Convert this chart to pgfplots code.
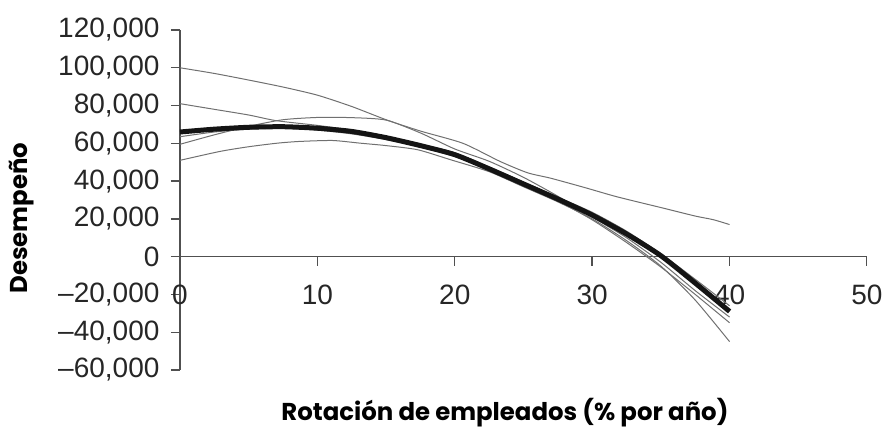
\documentclass[border=0pt]{standalone}
\usepackage{fontspec}
\setmainfont{Liberation Sans}
\newfontfamily\lblfont{Poppins}
\usepackage{pgfplots}
\pgfplotsset{compat=1.18}
\definecolor{axgray}{HTML}{505050}
\definecolor{thin}{HTML}{707070}
\begin{document}
\begin{tikzpicture}
\begin{axis}[
 scale only axis, width=343.5pt, height=170pt,
 xmin=0, xmax=50, ymin=-60000, ymax=120000,
 axis x line=middle, axis y line=left,
 axis line style={-, draw=axgray, line width=0.7pt},
 hide obscured x ticks=false,
 scaled y ticks=false, scaled x ticks=false,
 xtick={0,10,20,30,40,50}, xticklabels={0,10,20,30,40,50},
 ytick={-60000,-40000,-20000,0,20000,40000,60000,80000,100000,120000},
 yticklabels={{--60,000},{--40,000},{--20,000},0,{20,000},{40,000},{60,000},{80,000},{100,000},{120,000}},
 tick align=center, major tick length=4.5pt,
 tick style={draw=axgray, line width=0.7pt},
 xtick style={draw=none},
 ytick style={xshift=-2.25pt},
 ticklabel style={font=\fontsize{14}{16}\selectfont, text=black!85},
 xticklabel style={yshift=-8.5pt},
 yticklabel style={xshift=-4.5pt},
 every axis x label/.style={at={(axis description cs:0.473,-0.15)}, anchor=base},
 every axis y label/.style={at={(axis description cs:-0.23,0.447)}, rotate=90, anchor=center},
 xlabel={\lblfont\bfseries\fontsize{12.2}{14}\selectfont Rotación de empleados (\% por año)},
 ylabel={\lblfont\bfseries\fontsize{12.2}{14}\selectfont Desempeño},
 thinline/.style={thin, draw=thin, line width=0.5pt, smooth, tension=0.4},
 unbounded coords=jump,
]
\coordinate (ll) at (rel axis cs:0,0);
% x tick marks below the x axis line
\addplot[draw=axgray, line width=0.7pt] coordinates {(0,0) (0,-4760) (0,nan) (10,0) (10,-4760) (10,nan) (20,0) (20,-4760) (20,nan) (30,0) (30,-4760) (30,nan) (40,0) (40,-4760) (40,nan) (50,0) (50,-4760)};
\addplot[thinline] coordinates {(0,100000) (2.5,97000) (5,93500) (7.5,89800) (10,85500) (12.5,79500) (15,72500) (17.5,66500) (20.6,60000) (23.3,50400) (25.3,44400) (27,41500) (29.5,36500) (31.8,31700) (35,26000) (37.5,21500) (38.8,19600) (40,17000)};
\addplot[thinline] coordinates {(0,59500) (2.5,64500) (5,69000) (7.5,72500) (10,73700) (12.5,73600) (15,72300) (17.5,65500) (20,57000) (22.5,50500) (25,42000) (27.5,32000) (30,21000) (32.5,10000) (35,-3000) (37.5,-18000) (40,-32000)};
\addplot[thinline] coordinates {(0,81000) (2.5,78000) (5,75000) (7,72000) (10,69500) (12.5,67000) (15,63500) (17.5,59500) (20,55000) (22.5,47500) (25,39500) (27.5,31500) (30,23500) (32.5,13500) (35,1500) (37.5,-12000) (40,-26000)};
\addplot[thinline] coordinates {(0,51000) (2.9,55700) (5,58200) (7.1,60100) (8.7,61000) (11.1,61500) (13.1,60100) (15,58800) (17.3,56600) (19.7,51300) (22.5,45000) (25,37000) (27.5,29000) (30,20000) (32.5,8500) (35,-5000) (37.5,-23000) (40,-45000)};
\addplot[thinline] coordinates {(0,63500) (2.5,66000) (5,67500) (7.5,68000) (10,67000) (12.5,65000) (15,62000) (17.5,58000) (20,53000) (22.5,46000) (25,38000) (27.5,29500) (30,19500) (32.5,7500) (35,-5500) (37.5,-20000) (40,-35000)};
\addplot[draw=black!92, line width=2.5pt, smooth, tension=0.4] coordinates {(0,66000) (2.5,67500) (5,68500) (7.5,68800) (10,68000) (12.5,66300) (15,63000) (17.5,58800) (20,54000) (22.5,46500) (25,38500) (27.5,30500) (30,22000) (32.5,12000) (35,500) (37.5,-14000) (40,-29000)};
\end{axis}
\pgfresetboundingbox
\path ([shift={(-90pt,-29pt)}]ll) rectangle ++(442.5pt,214pt);
\end{tikzpicture}
\end{document}
